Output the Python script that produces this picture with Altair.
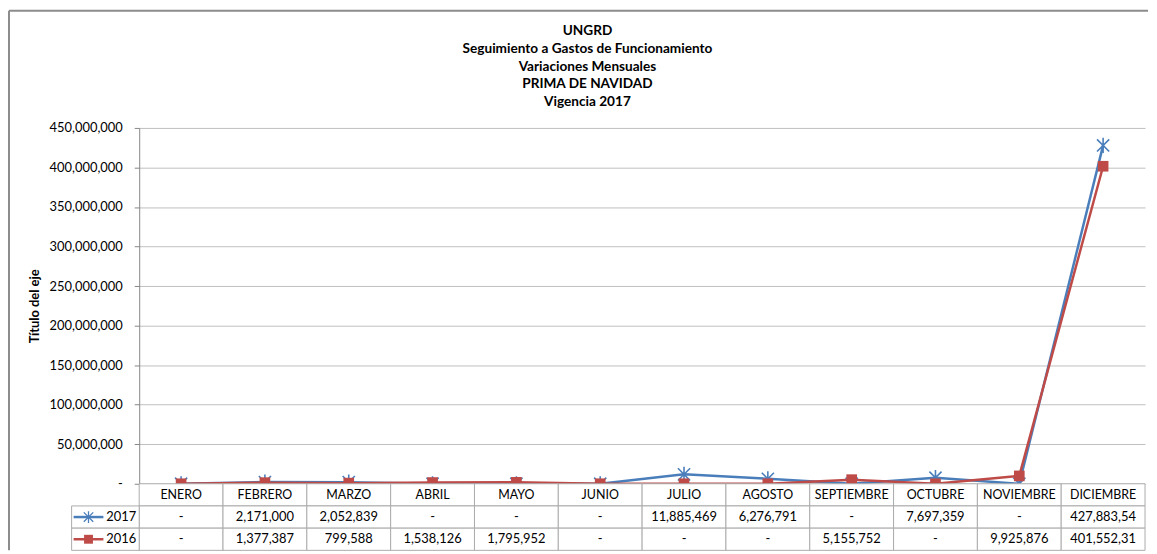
import altair as alt
import pandas as pd

# ---------------- data ----------------
months = ["ENERO", "FEBRERO", "MARZO", "ABRIL", "MAYO", "JUNIO", "JULIO",
          "AGOSTO", "SEPTIEMBRE", "OCTUBRE", "NOVIEMBRE", "DICIEMBRE"]
v2017 = [0, 2171000, 2052839, 0, 0, 0, 11885469, 6276791, 0, 7697359, 0, 427883540]
v2016 = [0, 1377387, 799588, 1538126, 1795952, 0, 0, 0, 5155752, 0, 9925876, 401552310]
t2017 = ["-", "2,171,000", "2,052,839", "-", "-", "-", "11,885,469", "6,276,791",
         "-", "7,697,359", "-", "427,883,54"]
t2016 = ["-", "1,377,387", "799,588", "1,538,126", "1,795,952", "-", "-", "-",
         "5,155,752", "-", "9,925,876", "401,552,31"]
series = ["2017", "2016"]
colors = ["#4A7EBB", "#BE4B48"]
title_lines = ["UNGRD", "Seguimiento a Gastos de Funcionamiento",
               "Variaciones Mensuales", "PRIMA DE NAVIDAD", "Vigencia 2017"]
y_ticks = [0, 50000000, 100000000, 150000000, 200000000, 250000000,
           300000000, 350000000, 400000000, 450000000]
header_row = "MES"

# ---------------- settings ----------------
FONT = "Lato"
W = 1012
H = 358
TH = 67
GRID = "#BFBFBF"
AXIS = "#868686"
CELL = "#ABABAB"
FRAME = "#8C8C8C"
ASTERISK = "M-1,-1L1,1M-1,1L1,-1M0,-1.25L0,1.25"

df = pd.DataFrame({
    "mes": months * 2,
    "valor": v2017 + v2016,
    "serie": ["2017"] * 12 + ["2016"] * 12,
})

x_scale = alt.Scale(type="point", domain=months, padding=0.5)
y_scale = alt.Scale(domain=[0, 450000000], nice=False, zero=True)

y_axis = alt.Axis(
    values=y_ticks, tickCount=20, grid=True, gridColor=GRID, gridWidth=1,
    domainColor=AXIS, tickColor=AXIS, tickSize=5, labelOverlap=False,
    labelExpr="datum.value == 0 ? '-\u00a0\u00a0\u00a0' : format(datum.value, ',')",
    labelFont=FONT, labelFontSize=13, labelColor="black", labelPadding=12,
    title="Título del eje", titleFont=FONT, titleFontSize=13,
    titleFontWeight="bold", titleColor="black", titlePadding=8,
)

X = alt.X("mes:N", scale=x_scale, axis=None, sort=months)
Y = alt.Y("valor:Q", scale=y_scale, axis=y_axis)

base = alt.Chart(df)
s17 = base.transform_filter(alt.datum.serie == "2017")
s16 = base.transform_filter(alt.datum.serie == "2016")

line17 = s17.mark_line(color=colors[0], strokeWidth=2.5).encode(x=X, y=Y)
pt17 = s17.mark_point(shape=ASTERISK, filled=False, color=colors[0],
                      strokeWidth=1.6, size=150, opacity=1).encode(x=X, y=Y)
line16 = s16.mark_line(color=colors[1], strokeWidth=2.5).encode(x=X, y=Y)
pt16 = s16.mark_point(shape="square", filled=True, color=colors[1],
                      size=115, opacity=1).encode(x=X, y=Y)

top = alt.layer(line17, pt17, line16, pt16).properties(
    width=W, height=H,
    title=alt.TitleParams(text=title_lines, font=FONT, fontSize=13.7,
                          fontWeight="bold", color="black", anchor="middle",
                          dx=-55, offset=13, lineHeight=18),
)

# ---------------- data table ----------------
rows = [header_row] + series
tdf = pd.DataFrame({
    "mes": months * 3,
    "fila": [header_row] * 12 + ["2017"] * 12 + ["2016"] * 12,
    "texto": months + t2017 + t2016,
})
hdr = tdf[tdf["fila"] == header_row]
body = tdf[tdf["fila"] != header_row]
leg = pd.DataFrame({"fila": series})

tx = alt.X("mes:N", scale=alt.Scale(domain=months, paddingInner=0, paddingOuter=0),
           axis=None, sort=months)
row_scale = alt.Scale(domain=rows, paddingInner=0, paddingOuter=0)
ty = alt.Y("fila:N", scale=row_scale, axis=None, sort=rows)
ty_c = alt.Y("fila:N", scale=row_scale, axis=None, sort=rows, bandPosition=0.5)
col = alt.Color("fila:N", scale=alt.Scale(domain=series, range=colors), legend=None)

cells = alt.Chart(tdf).mark_rect(fill="white", stroke=CELL, strokeWidth=1).encode(x=tx, y=ty)
hdr_txt = alt.Chart(hdr).mark_text(font=FONT, fontSize=12.5, color="black").encode(
    x=tx, y=ty, text="texto:N")
body_txt = alt.Chart(body).mark_text(font=FONT, fontSize=13, color="black").encode(
    x=tx, y=ty, text="texto:N")

lg = alt.Chart(leg)
leg_cells = lg.mark_rect(fill="white", stroke=CELL, strokeWidth=1).encode(
    x=alt.value(-68), x2=alt.value(0), y=ty)
leg_lines = lg.mark_rule(strokeWidth=2.5).encode(
    x=alt.value(-66), x2=alt.value(-36), y=ty_c, color=col)
leg_ast = lg.transform_filter(alt.datum.fila == "2017").mark_point(
    shape=ASTERISK, filled=False, strokeWidth=1.3, size=90, opacity=1,
    color=colors[0]).encode(x=alt.value(-51), y=ty_c)
leg_sq = lg.transform_filter(alt.datum.fila == "2016").mark_point(
    shape="square", filled=True, size=80, opacity=1,
    color=colors[1]).encode(x=alt.value(-51), y=ty_c)
leg_txt = lg.mark_text(font=FONT, fontSize=13, color="black", align="right").encode(
    x=alt.value(-3), y=ty_c, text="fila:N")

# outer chart-area frame (left and top edges)
dummy = alt.Chart(pd.DataFrame({"k": [0]}))
frame_left = dummy.mark_rule(color=FRAME, strokeWidth=2).encode(
    x=alt.value(-131), y=alt.value(-(H + 118)), y2=alt.value(TH))
frame_top = dummy.mark_rule(color=FRAME, strokeWidth=2).encode(
    x=alt.value(-131), x2=alt.value(1015), y=alt.value(-(H + 118)))

table = alt.layer(cells, hdr_txt, body_txt, leg_cells, leg_lines, leg_ast, leg_sq,
                  leg_txt, frame_left, frame_top).properties(width=W, height=TH)

chart = alt.vconcat(top, table, spacing=0, bounds="flush").properties(
    padding=0, background="white"
).configure_view(stroke=None)

chart.save("out.html", embed_options={"renderer": "svg", "actions": False})
